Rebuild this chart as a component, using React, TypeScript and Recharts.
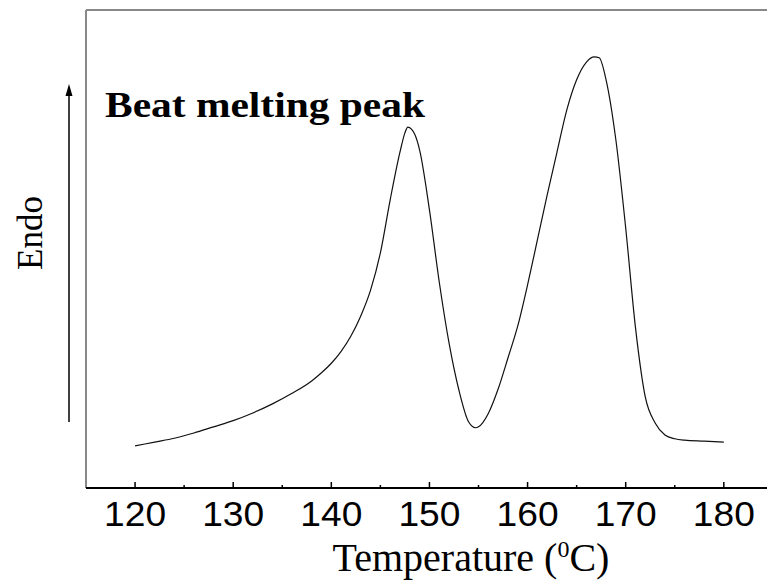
import { Line, LineChart, ReferenceLine, XAxis, YAxis } from 'recharts';

// DSC trace, temperature in °C vs heat flow (arbitrary units, endo up)
const temperatures = [
  120, 122, 124, 126, 128, 130, 132, 134, 136, 138, 139,
  140, 141, 142, 143, 144, 145, 146, 147, 147.5, 147.8, 148.5, 149, 150, 151, 152, 153, 154, 154.7,
  155, 156, 157, 158, 159, 160, 161, 162, 163, 164, 165, 166, 166.8, 167.3, 168, 169, 170, 171, 172,
  173, 174, 175, 176, 178, 180,
];
const heatFlow = [
  8.8, 9.6, 10.4, 11.5, 12.8, 14.1, 15.7, 17.6, 19.8, 22.4, 24.1,
  26.1, 28.6, 31.8, 36.0, 41.4, 49.2, 60.3, 70.3, 74.3, 75.5, 74.0, 70.7, 58.2, 43.1, 30.3, 20.5, 13.8, 12.6,
  12.8, 15.6, 20.7, 27.2, 33.9, 42.5, 51.9, 61.3, 70.3, 79.1, 85.4, 89.1, 90.2, 90.0, 85.4, 72.8, 54.4, 33.5, 19.0,
  13.6, 11.1, 10.3, 10.0, 9.8, 9.6,
];
const xTicks = [120, 125, 130, 135, 140, 145, 150, 155, 160, 165, 170, 175, 180];
const xTickLabels = ['120', '130', '140', '150', '160', '170', '180'];

const xMin = 115;
const xMax = 184.4;
const yMax = 100;

const data = temperatures.map((t, i) => ({ temp: t, flow: heatFlow[i] }));

const serif = '"Liberation Serif", "Times New Roman", serif';
const sans = '"Liberation Sans", Arial, sans-serif';

function TempTick(props: any) {
  const { x, y, payload } = props;
  const label = String(payload.value);
  const major = xTickLabels.includes(label);
  return (
    <g>
      <line x1={x} x2={x} y1={y} y2={y - (major ? 6 : 3)} stroke="#000" strokeWidth={1.5} />
      {major && (
        <text
          x={x}
          y={y + 38}
          textAnchor="middle"
          fontFamily={sans}
          fontSize={35}
          textLength={62}
          lengthAdjust="spacingAndGlyphs"
          fill="#000"
        >
          {label}
        </text>
      )}
    </g>
  );
}

export default function App() {
  return (
    <div
      style={{
        position: 'fixed',
        left: 0,
        top: 0,
        width: 767,
        height: 586,
        overflow: 'hidden',
        background: '#fff',
      }}
    >
      <LineChart
        width={767}
        height={586}
        data={data}
        margin={{ top: 10, right: 0, bottom: 0, left: 86 }}
      >
        <XAxis
          dataKey="temp"
          type="number"
          domain={[xMin, xMax]}
          allowDataOverflow
          ticks={xTicks}
          interval={0}
          height={98}
          tickSize={0}
          tickMargin={0}
          tickLine={false}
          tick={<TempTick />}
          axisLine={{ stroke: '#000', strokeWidth: 2 }}
        />
        <YAxis
          type="number"
          domain={[0, yMax]}
          allowDataOverflow
          width={0}
          tick={false}
          tickLine={false}
          axisLine={false}
        />
        {/* plot frame: top and left edges only */}
        <ReferenceLine
          segment={[{ x: xMin, y: yMax }, { x: xMax, y: yMax }]}
          stroke="#888"
          strokeWidth={2}
        />
        <ReferenceLine
          segment={[{ x: xMin, y: 0 }, { x: xMin, y: yMax }]}
          stroke="#888"
          strokeWidth={2}
        />
        <Line
          type="monotone"
          dataKey="flow"
          stroke="#111"
          strokeWidth={1.2}
          dot={false}
          isAnimationActive={false}
        />
        <text
          x={105}
          y={117}
          fontFamily={serif}
          fontWeight="bold"
          fontSize={36}
          textLength={320}
          lengthAdjust="spacingAndGlyphs"
          fill="#000"
        >
          Beat melting peak
        </text>
        <text
          x={471}
          y={571}
          textAnchor="middle"
          fontFamily={serif}
          fontSize={40}
          fill="#000"
        >
          Temperature (
          <tspan dy={-14} fontSize={24}>0</tspan>
          <tspan dy={14}>C)</tspan>
        </text>
        <text
          x={42}
          y={233}
          transform="rotate(-90 42 233)"
          textAnchor="middle"
          fontFamily={serif}
          fontSize={35}
          fill="#000"
        >
          Endo
        </text>
        {/* "Endo" direction arrow */}
        <line x1={69} x2={69} y1={422} y2={92} stroke="#000" strokeWidth={1.5} />
        <path d="M69,84 L65.5,96 L72.5,96 Z" fill="#000" />
      </LineChart>
    </div>
  );
}
